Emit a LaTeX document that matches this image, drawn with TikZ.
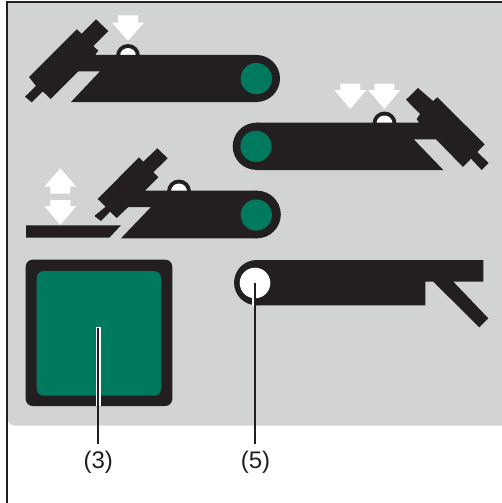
\documentclass[tikz,border=0pt]{standalone}
\usepackage{fontspec}
\setmainfont{Liberation Sans}
\definecolor{panelgray}{HTML}{D1D3D4}
\definecolor{ink}{HTML}{231F20}
\definecolor{lamp}{HTML}{007A5E}
\tikzset{
  ink fill/.style={fill=ink,draw=none},
  lamp fill/.style={fill=lamp,draw=none},
  white fill/.style={fill=white,draw=none},
  leader/.style={draw=ink,line width=2.2pt},
  halo/.style={draw=white,line width=1.6pt},
  label text/.style={font=\fontsize{24}{26}\selectfont,text=ink,inner sep=0pt}
}
\newcommand{\downarrowat}[4]{% cx, top, shoulder, tip
  \fill[white fill] (#1-10,#2) -- (#1+10,#2) -- (#1+10,#3) -- (#1+16,#3) -- (#1,#4) -- (#1-16,#3) -- (#1-10,#3) -- cycle;}
\newcommand{\bumpat}[2]{%
  \fill[ink fill] (#1,#2) circle[radius=12];
  \fill[white fill] (#1,#2) circle[radius=8];}
\begin{document}
\begin{tikzpicture}[x=1pt,y=-1pt]
\useasboundingbox (0,0) rectangle (502,503);
\fill[white] (0,0) rectangle (502,503);
% panel
\fill[panelgray] (7,2) -- (502,2) -- (502,425.7) -- (15,425.7) .. controls (11,425.7) and (7,422) .. (7,418) -- cycle;
\draw[ink,line width=2pt] (502,2.2) -- (6.5,2.2) -- (6.5,503);
% row 1
\bumpat{128}{56}
\fill[ink fill] (256.5,78.5) circle[radius=23.5];
\fill[ink fill] (95,55) -- (256.5,55) -- (256.5,102) -- (71,102) -- (100,71.3) -- (78.3,71.3)
  -- (50.7,99) -- (42.7,91.3) -- (31.7,102.3) -- (25,96.7) -- (36,86) -- (29,77) -- (76.7,29.3) -- (81.7,33.7) -- (96,19.3) -- (108.3,31) -- (93.3,46) -- (98.3,50.7) -- cycle;
\fill[lamp fill] (256.3,78.6) circle[radius=15.6];
\downarrowat{128}{15.3}{22.7}{40.7}
% row 2
\bumpat{384.5}{123.5}
\fill[ink fill] (256.3,146.3) circle[radius=23.6];
\fill[ink fill] (419,122.7) -- (256.3,122.7) -- (256.3,170) -- (443.3,170) -- (413.7,139.3) -- (436,139.3)
  -- (463,167) -- (471,158.7) -- (481.7,170) -- (488.7,163) -- (477.3,152) -- (484.7,144.3) -- (437.3,97.3) -- (433,101) -- (418,88) -- (406,99.7) -- (420,114) -- (416.7,119) -- cycle;
\fill[lamp fill] (256,146.3) circle[radius=15.6];
\downarrowat{350.3}{83.7}{90}{109}
\downarrowat{384.3}{83.7}{90}{109}
% row 3
\bumpat{179}{191.5}
\fill[ink fill] (257,214.5) circle[radius=23.8];
\fill[ink fill] (145,190.7) -- (257,190.7) -- (257,238.3) -- (121,238.3) -- (151,207) -- (128.3,207)
  -- (116.7,218) -- (110,211.7) -- (101,221) -- (94.3,216) -- (105.7,206.7) -- (97.7,199)
  -- (139,157.3) -- (143.3,161.7) -- (157.3,148.3) -- (167.7,158.3) -- (153.3,172.3) -- (158.3,177.3) -- cycle;
\fill[lamp fill] (256.3,215) circle[radius=15.6];
\fill[white fill] (60.3,168.3) -- (76.3,186.7) -- (70,186.7) -- (70,193.7) -- (50.3,193.7) -- (50.3,186.7) -- (44.3,186.7) -- cycle;
\downarrowat{60.3}{200}{206}{225}
\fill[ink fill] (26,225.3) -- (121,225.3) -- (109.3,237.7) -- (26,237.7) -- cycle;
% green square
\fill[ink fill,rounded corners=7] (25.7,259.7) rectangle (172.3,406);
\fill[lamp fill,rounded corners=7] (36.7,271) rectangle (161,395.7);
% row 4
\fill[ink fill] (256.7,282.65) circle[radius=22.65];
\fill[ink fill] (256.7,260) -- (483.3,260) -- (483.3,281.7) -- (453.3,281.7) -- (488.3,318.3) -- (479.3,327.3) -- (433.3,281.7) -- (425.3,281.7) -- (425.3,305.3) -- (256.7,305.3) -- cycle;
\fill[white fill] (255,283) circle[radius=15.3];
% leaders
\node[label text] (lab3) at (98.3,462.2) {(3)};
\node[label text] (lab5) at (255.5,462.2) {(5)};
\coordinate (tip3) at (98.3,328.3);
\coordinate (end3) at (98.3,443.7);
\coordinate (tip5) at (255.3,283);
\coordinate (end5) at (255.3,443.7);
\draw[halo,line width=4.4pt] (98.3,327.3) -- (98.3,406);
\draw[halo] (253,298) -- (253,306);
\draw[leader] (tip3) -- (end3);
\draw[leader] (tip5) -- (end5);
\end{tikzpicture}
\end{document}
